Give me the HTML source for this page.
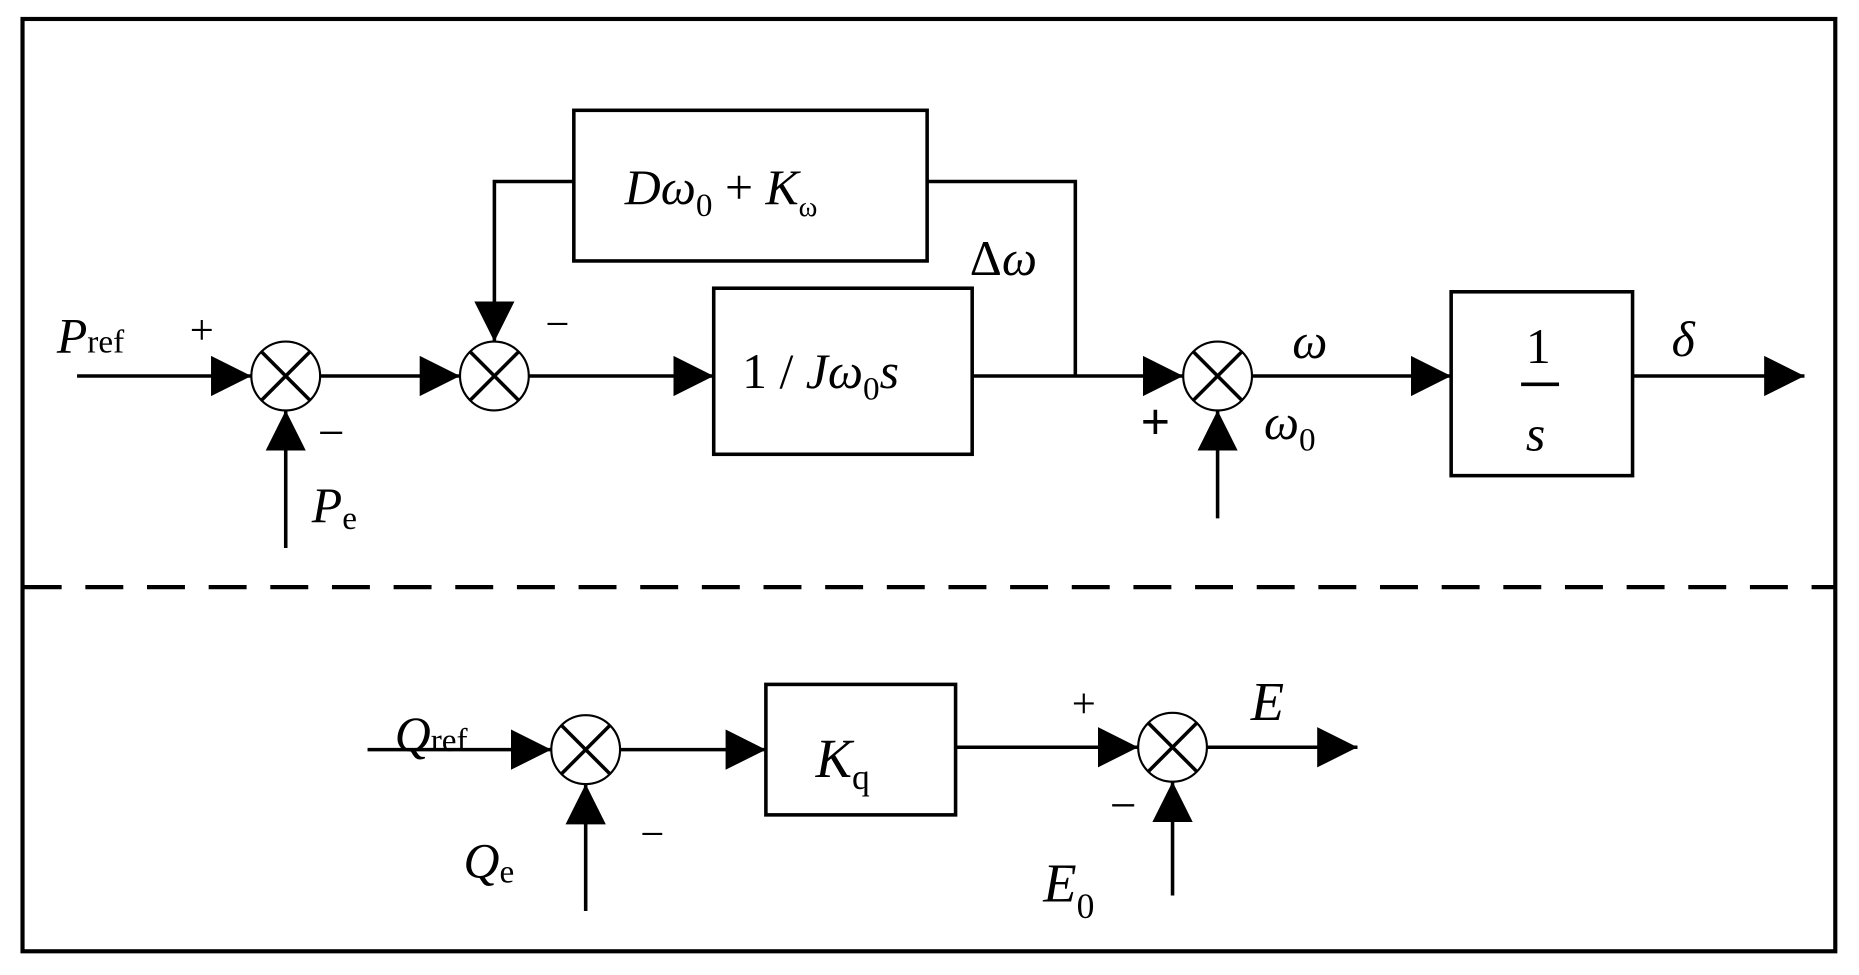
<!DOCTYPE html>
<html><head><style>body{margin:0;background:#fff}svg{display:block}text{font-family:"Liberation Serif",serif}</style></head><body>
<svg width="1859" height="975" viewBox="0 0 1568 822" preserveAspectRatio="none" xmlns="http://www.w3.org/2000/svg">
<defs><marker id="a" markerWidth="36" markerHeight="36" refX="34" refY="17" orient="auto" markerUnits="userSpaceOnUse"><path d="M0,0 L34,17 L0,34 z" fill="#000"/></marker></defs>
<rect x="19" y="16" width="1529" height="786" fill="none" stroke="#000" stroke-width="3.5"/>
<line x1="20" y1="495" x2="1548" y2="495" stroke="#000" stroke-width="3.5" stroke-dasharray="32,20"/>
<g fill="none" stroke="#000" stroke-width="3">
<rect x="484" y="93" width="298" height="127"/>
<rect x="602" y="243" width="218" height="140"/>
<rect x="1224" y="246" width="153" height="155"/>
<rect x="646" y="577" width="160" height="110"/>
<g stroke-width="1.8">
<circle cx="241" cy="317" r="29"/><circle cx="417" cy="317" r="29"/><circle cx="1027" cy="317" r="29"/><circle cx="494" cy="632" r="29"/><circle cx="989" cy="630" r="29"/>
</g>
<g stroke-width="3">
<path d="M221,297 l40,40 M261,297 l-40,40 M397,297 l40,40 M437,297 l-40,40 M1007,297 l40,40 M1047,297 l-40,40 M474,612 l40,40 M514,612 l-40,40 M969,610 l40,40 M1009,610 l-40,40"/>
</g>
<line x1="65" y1="317" x2="212" y2="317" marker-end="url(#a)"/>
<line x1="270" y1="317" x2="388" y2="317" marker-end="url(#a)"/>
<line x1="446" y1="317" x2="602" y2="317" marker-end="url(#a)"/>
<line x1="820" y1="317" x2="998" y2="317" marker-end="url(#a)"/>
<polyline points="907,317 907,153 782,153"/>
<polyline points="484,153 417,153 417,288" marker-end="url(#a)"/>
<line x1="1056" y1="317" x2="1224" y2="317" marker-end="url(#a)"/>
<line x1="1377" y1="317" x2="1522" y2="317" marker-end="url(#a)"/>
<line x1="241" y1="462" x2="241" y2="346" marker-end="url(#a)"/>
<line x1="1027" y1="437" x2="1027" y2="346" marker-end="url(#a)"/>
<line x1="310" y1="632" x2="465" y2="632" marker-end="url(#a)"/>
<line x1="523" y1="632" x2="646" y2="632" marker-end="url(#a)"/>
<line x1="806" y1="630" x2="960" y2="630" marker-end="url(#a)"/>
<line x1="1018" y1="630" x2="1145" y2="630" marker-end="url(#a)"/>
<line x1="494" y1="768" x2="494" y2="661" marker-end="url(#a)"/>
<line x1="989" y1="755" x2="989" y2="659" marker-end="url(#a)"/>
<line x1="1283" y1="324" x2="1315" y2="324"/>
</g>
<g font-size="42" fill="#000">
<text x="48" y="297" font-style="italic">P<tspan font-style="normal" font-size="28">ref</tspan></text>
<text x="160" y="290" font-size="36">+</text>
<text x="268" y="378" font-size="40">−</text>
<text x="263" y="440" font-style="italic">P<tspan font-style="normal" font-size="28" dy="6">e</tspan></text>
<text x="460" y="285" font-size="36">−</text>
<text x="527" y="172" font-style="italic">Dω<tspan font-style="normal" font-size="28" dy="10">0</tspan><tspan font-style="normal" dy="-10"> + </tspan>K<tspan font-style="normal" font-size="24" dy="10">ω</tspan></text>
<text x="626" y="327">1 / <tspan font-style="italic">Jω</tspan><tspan font-size="28" dy="10">0</tspan><tspan font-style="italic" dy="-10">s</tspan></text>
<text x="818" y="232">Δ<tspan font-style="italic">ω</tspan></text>
<text x="1090" y="302" font-style="italic">ω</text>
<text x="962" y="370" font-size="44" font-weight="bold">+</text>
<text x="1066" y="370" font-style="italic">ω<tspan font-style="normal" font-size="28" dy="10">0</tspan></text>
<text x="1287" y="306">1</text>
<text x="1287" y="380" font-style="italic">s</text>
<text x="1410" y="300" font-style="italic">δ</text>
<text x="333" y="633" font-style="italic">Q<tspan font-style="normal" font-size="28">ref</tspan></text>
<text x="540" y="715" font-size="36">−</text>
<text x="391" y="740" font-style="italic">Q<tspan font-style="normal" font-size="28" dy="4">e</tspan></text>
<text x="688" y="655" font-size="46" font-style="italic">K<tspan font-style="normal" font-size="30" dy="10">q</tspan></text>
<text x="904" y="605" font-size="36">+</text>
<text x="1055" y="607" font-size="46" font-style="italic">E</text>
<text x="936" y="692" font-size="40">−</text>
<text x="880" y="760" font-size="46" font-style="italic">E<tspan font-style="normal" font-size="30" dy="14">0</tspan></text>
</g>
</svg>
</body></html>
